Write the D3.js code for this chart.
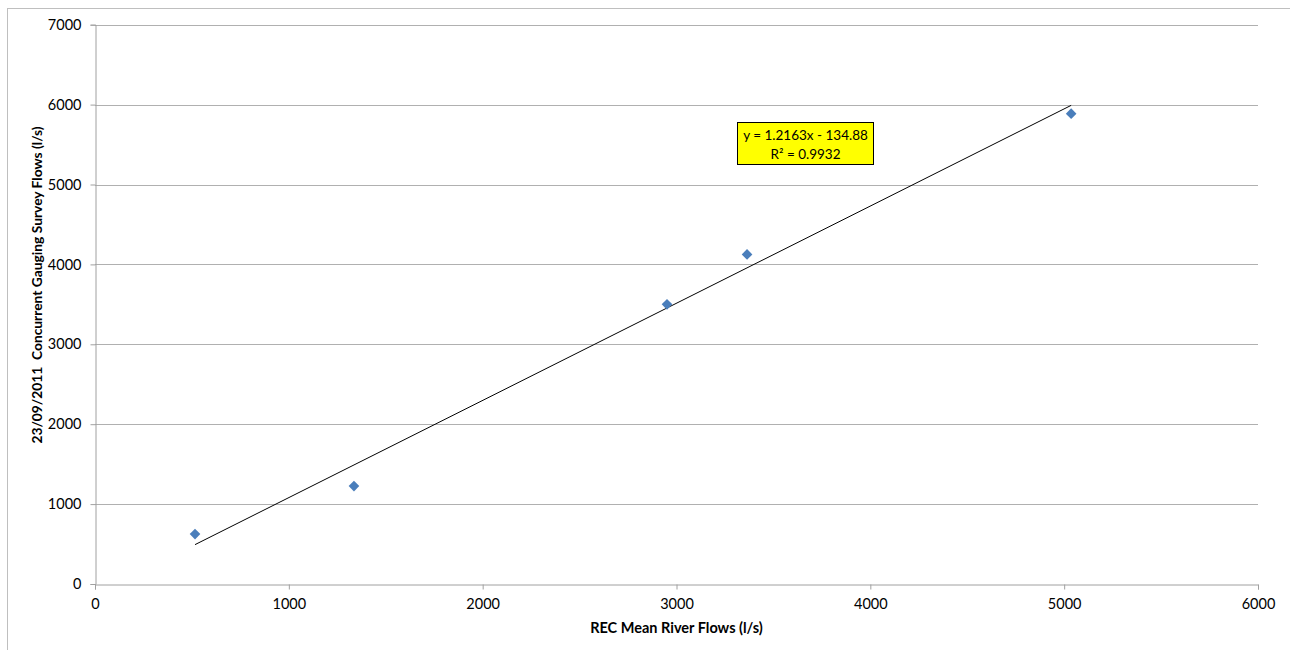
<!DOCTYPE html>
<html><head><meta charset="utf-8">
<script src="https://cdn.jsdelivr.net/npm/d3@7"></script>
<style>body{margin:0;background:#fff}svg{display:block}text{font-family:Lato,"Open Sans",sans-serif}</style>
</head><body>
<script>
const xValues = [516, 1336, 2951, 3364, 5036];
const yValues = [625, 1225, 3500, 4125, 5887];
const xTicks = [0, 1000, 2000, 3000, 4000, 5000, 6000];
const yTicks = [0, 1000, 2000, 3000, 4000, 5000, 6000, 7000];
const slope = 1.2163, intercept = -134.88;
const eqLabel = ["y = 1.2163x - 134.88", "R² = 0.9932"];
const xTitle = "REC Mean River Flows (l/s)";
const yTitle = "23/09/2011  Concurrent Gauging Survey Flows (l/s)";

const W = 1290, H = 650;
const svg = d3.select("body").append("svg").attr("width", W).attr("height", H);
svg.append("rect").attr("x", 7.5).attr("y", 8.5).attr("width", W + 10).attr("height", H + 10)
  .attr("fill", "none").attr("stroke", "#bfbfbf");

const x = d3.scaleLinear().domain([0, 6000]).range([95, 1258]);
const y = d3.scaleLinear().domain([0, 7000]).range([584, 24.7]);

// gridlines
svg.append("g").selectAll("line").data(yTicks.filter(d => d > 0)).join("line")
  .attr("x1", x(0)).attr("x2", x(6000)).attr("y1", d => Math.round(y(d)) + 0.5).attr("y2", d => Math.round(y(d)) + 0.5)
  .attr("stroke", "#b0b0b0").attr("stroke-width", 1);

const yAxis = svg.append("g").attr("transform", `translate(${x(0) + 0.5},0)`)
  .call(d3.axisLeft(y).tickValues(yTicks).tickSize(5).tickPadding(9).tickFormat(d3.format("d")));
const xAxis = svg.append("g").attr("transform", `translate(0,${Math.round(y(0)) + 0.5})`)
  .call(d3.axisBottom(x).tickValues(xTicks).tickSize(5).tickPadding(9).tickFormat(d3.format("d")));
[xAxis, yAxis].forEach(a => {
  a.selectAll("path,line").attr("stroke", "#a0a0a0");
  a.selectAll("text").attr("font-size", 14.5).attr("fill", "#000").attr("font-family", "Lato, 'Open Sans', sans-serif");
});

// trendline
const xmin = d3.min(xValues), xmax = d3.max(xValues);
svg.append("line").attr("x1", x(xmin)).attr("y1", y(slope * xmin + intercept))
  .attr("x2", x(xmax)).attr("y2", y(slope * xmax + intercept))
  .attr("stroke", "#000").attr("stroke-width", 1);

// points
const pts = xValues.map((v, i) => [v, yValues[i]]);
svg.append("g").selectAll("path").data(pts).join("path")
  .attr("d", d3.symbol(d3.symbolDiamond2, 72))
  .attr("transform", d => `translate(${x(d[0])},${y(d[1])})`)
  .attr("fill", "#4a7ebb");

// equation box
const bx = 737.5, by = 122.5, bw = 136, bh = 42;
svg.append("rect").attr("x", bx).attr("y", by).attr("width", bw).attr("height", bh)
  .attr("fill", "#ffff00").attr("stroke", "#000").attr("stroke-width", 1);
svg.append("text").attr("x", bx + bw / 2).attr("text-anchor", "middle").attr("font-size", 13.5)
  .selectAll("tspan").data(eqLabel).join("tspan")
  .attr("x", bx + bw / 2).attr("y", (d, i) => by + 17 + i * 19).text(d => d);

// axis titles
svg.append("text").attr("x", (x(0) + x(6000)) / 2).attr("y", 633).attr("text-anchor", "middle")
  .attr("font-size", 14.5).attr("font-weight", "bold").style("white-space", "pre").text(xTitle);
svg.append("text").attr("transform", `translate(42,285) rotate(-90)`)
  .attr("text-anchor", "middle").attr("font-size", 13.8).attr("font-weight", "bold")
  .style("white-space", "pre").text(yTitle);
</script>
</body></html>
